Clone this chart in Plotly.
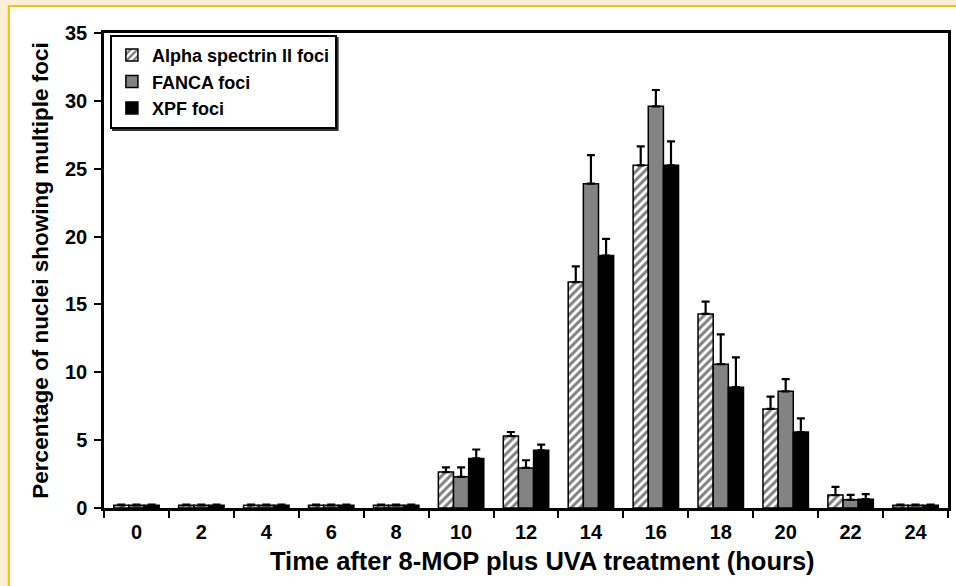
import plotly.graph_objects as go

categories = ["0", "2", "4", "6", "8", "10", "12", "14", "16", "18", "20", "22", "24"]
alpha_vals = [0.2, 0.2, 0.2, 0.2, 0.2, 2.65, 5.3, 16.65, 25.25, 14.3, 7.3, 0.95, 0.2]
alpha_err = [0.05, 0.05, 0.05, 0.05, 0.05, 0.35, 0.3, 1.15, 1.4, 0.9, 0.9, 0.6, 0.05]
fanca_vals = [0.2, 0.2, 0.2, 0.2, 0.2, 2.3, 2.95, 23.9, 29.6, 10.6, 8.6, 0.6, 0.2]
fanca_err = [0.05, 0.05, 0.05, 0.05, 0.05, 0.7, 0.57, 2.1, 1.2, 2.2, 0.9, 0.37, 0.05]
xpf_vals = [0.2, 0.2, 0.2, 0.2, 0.2, 3.65, 4.25, 18.6, 25.25, 8.9, 5.6, 0.65, 0.2]
xpf_err = [0.05, 0.05, 0.05, 0.05, 0.05, 0.66, 0.42, 1.23, 1.76, 2.2, 1.0, 0.37, 0.05]
y_ticks = [0, 5, 10, 15, 20, 25, 30, 35]
x_title = "Time after 8-MOP plus UVA treatment (hours)"
y_title = "Percentage of nuclei showing multiple foci"

FONT = "Liberation Sans"

def err(arr):
    return dict(type="data", array=arr, arrayminus=[0] * len(arr), symmetric=False,
                color="black", thickness=2.2, width=4)

fig = go.Figure()
fig.add_trace(go.Bar(
    x=categories, y=alpha_vals, name="Alpha spectrin II foci", error_y=err(alpha_err),
    marker=dict(color="white", line=dict(color="black", width=1.5),
                pattern=dict(shape="/", fgcolor="black", bgcolor="white", size=6, solidity=0.5)),
))
fig.add_trace(go.Bar(
    x=categories, y=fanca_vals, name="FANCA foci", error_y=err(fanca_err),
    marker=dict(color="#838383", line=dict(color="black", width=1.5)),
))
fig.add_trace(go.Bar(
    x=categories, y=xpf_vals, name="XPF foci", error_y=err(xpf_err),
    marker=dict(color="black", line=dict(color="black", width=1.5)),
))

L, R, T, B = 104, 5, 33, 78
W, H = 956, 586
pw, ph = W - L - R, H - T - B

def px(x):
    return (x - L) / pw

def py(y):
    return (H - B - y) / ph

# page frame (cream strip with gold rule on left and top)
fig.add_shape(type="rect", xref="paper", yref="paper",
              x0=px(8.5), x1=px(1300), y0=py(6), y1=py(900),
              fillcolor="white", line=dict(color="#F4BE1E", width=2.2), layer="below")

# legend drop shadow (legend box is drawn on top of it)
fig.add_shape(type="rect", xref="paper", yref="paper",
              x0=px(112), x1=px(339.5), y0=py(37), y1=py(131),
              fillcolor="#333333", line=dict(width=0), layer="above")

fig.add_annotation(text=x_title, xref="paper", yref="paper", x=px(544), y=py(561),
                   showarrow=False, xanchor="center", yanchor="middle",
                   font=dict(family=FONT, size=25.5, color="black", weight="bold"))

fig.update_layout(
    width=W, height=H,
    margin=dict(l=L, r=R, t=T, b=B),
    paper_bgcolor="#FCEFD3",
    plot_bgcolor="rgba(0,0,0,0)",
    barmode="group", bargap=0.3, bargroupgap=0,
    font=dict(family=FONT, color="black"),
    showlegend=True,
    legend=dict(x=0.007, y=0.996, xanchor="left", yanchor="top",
                bgcolor="white", bordercolor="black", borderwidth=2,
                font=dict(family=FONT, size=18, color="black", weight="bold"),
                itemwidth=30, tracegroupgap=0),
    xaxis=dict(
        type="category", showline=True, linecolor="black", linewidth=2.5, mirror=True,
        ticks="outside", ticklen=7, tickwidth=2, tickcolor="black", tickson="boundaries",
        ticklabelstandoff=4,
        tickfont=dict(family=FONT, size=20, color="black", weight="bold"),
        showgrid=False,
    ),
    yaxis=dict(
        range=[0, 35], tickvals=y_ticks, showline=True, linecolor="black", linewidth=2.5, mirror=True,
        ticks="outside", ticklen=7, tickwidth=2, tickcolor="black",
        ticklabelstandoff=3,
        tickfont=dict(family=FONT, size=20, color="black", weight="bold"),
        title=dict(text=y_title,
                   font=dict(family=FONT, size=22.5, color="black", weight="bold"), standoff=11),
        showgrid=False, zeroline=False,
    ),
)

fig.write_html("out.html", config={"displayModeBar": False},
               post_script="document.body.style.margin='0';")
